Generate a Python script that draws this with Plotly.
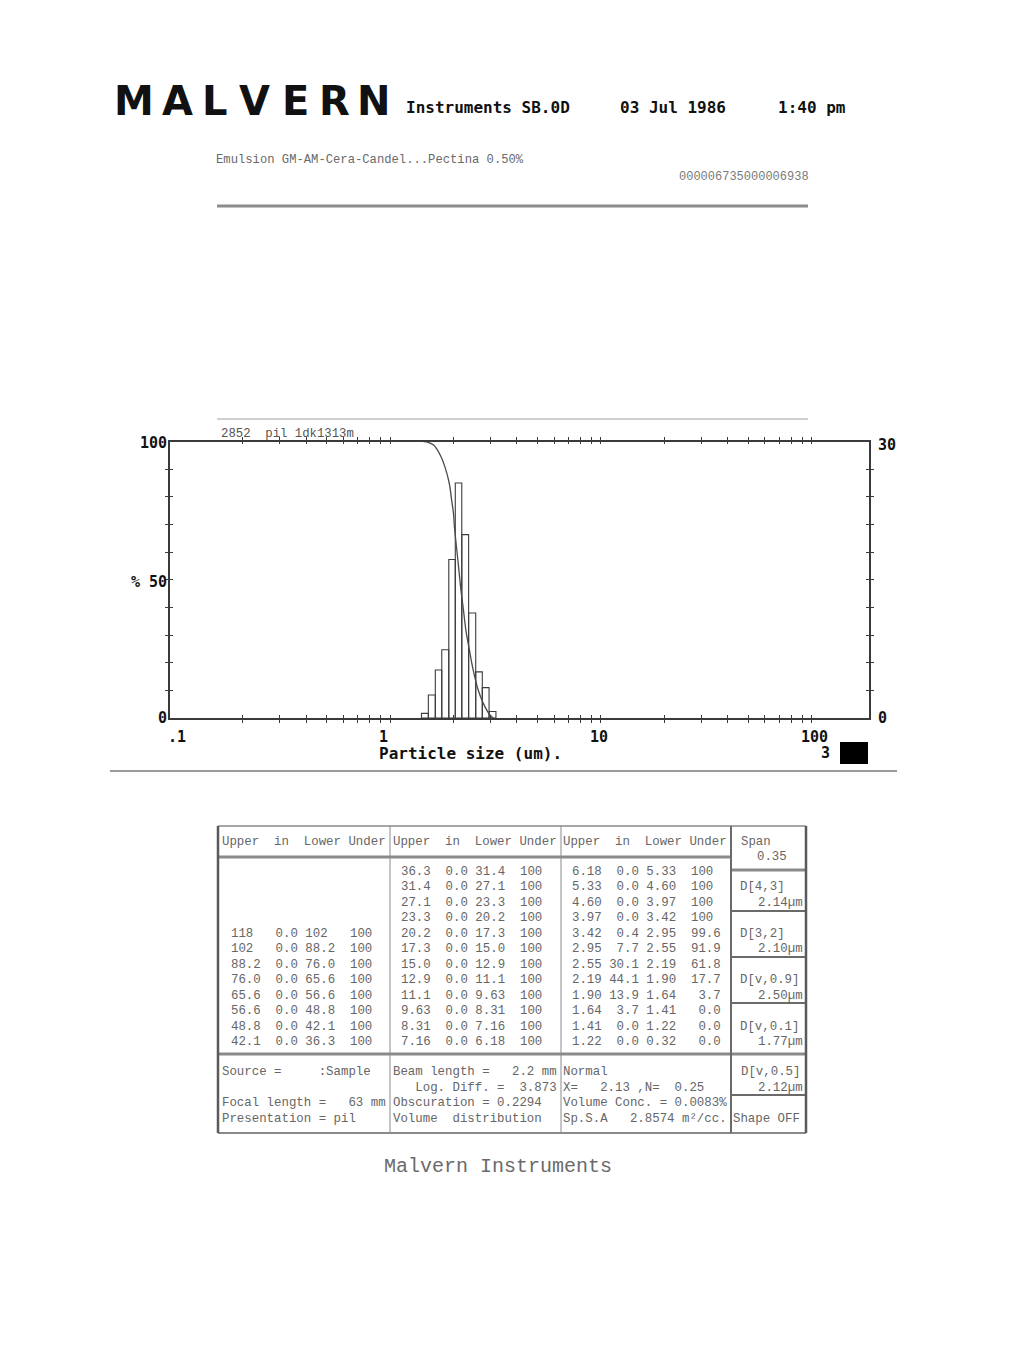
import math
import plotly.graph_objects as go

W, H = 1019, 1352
MONO = "Liberation Mono"
BOLD_MONO = "DejaVu Sans Mono"
LOGO_FONT = "DejaVu Sans"


def px(x):
    return x / W


def py(y):
    return 1 - y / H


def nb(s):
    # keep runs of spaces in monospaced text
    return s.replace(" ", "\u00a0")


# ---------------- distribution data ----------------
# histogram sub-classes (um) and volume % in each
bar_edges = [1.41, 1.52, 1.64, 1.76, 1.90, 2.04, 2.19, 2.36, 2.55, 2.74, 2.95, 3.18]
bar_volume = [0.5, 2.5, 5.2, 7.4, 17.2, 25.5, 19.9, 11.4, 5.0, 3.3, 0.7]

# cumulative oversize curve (% of volume above size)
curve_size = [1.44, 1.49, 1.61, 1.73, 1.82, 1.91, 1.96, 2.00, 2.02, 2.05, 2.09, 2.13,
              2.17, 2.23, 2.29, 2.38, 2.48, 2.62, 2.77, 2.98, 3.09]
curve_pct = [100, 99.9, 98.7, 95.1, 90.9, 84.9, 78.8, 74.0, 69.2, 64.4, 58.3, 52.3,
             46.3, 39.1, 31.8, 24.6, 17.4, 10.1, 5.3, 1.1, 0]

# axis ticks and labels
x_ticks = [m * 10.0 ** e for e in (-1, 0, 1) for m in range(2, 11)]
x_label_vals = [0.1, 1, 10, 100]
x_label_text = [".1", "1", "10", "100"]
pct_ticks = [10, 20, 30, 40, 50, 60, 70, 80, 90]
vol_ticks = [3, 6, 9, 12, 15, 18, 21, 24, 27]

# ---------------- result table data ----------------
upper_txt = ["118", "102", "88.2", "76.0", "65.6", "56.6", "48.8", "42.1",
             "36.3", "31.4", "27.1", "23.3", "20.2", "17.3", "15.0", "12.9",
             "11.1", "9.63", "8.31", "7.16", "6.18", "5.33", "4.60", "3.97",
             "3.42", "2.95", "2.55", "2.19", "1.90", "1.64", "1.41", "1.22"]
in_txt = ["0.0"] * 24 + ["0.4", "7.7", "30.1", "44.1", "13.9", "3.7", "0.0", "0.0"]
lower_txt = ["102", "88.2", "76.0", "65.6", "56.6", "48.8", "42.1", "36.3",
             "31.4", "27.1", "23.3", "20.2", "17.3", "15.0", "12.9", "11.1",
             "9.63", "8.31", "7.16", "6.18", "5.33", "4.60", "3.97", "3.42",
             "2.95", "2.55", "2.19", "1.90", "1.64", "1.41", "1.22", "0.32"]
under_txt = ["100"] * 24 + ["99.6", "91.9", "61.8", "17.7", "3.7", "0.0", "0.0", "0.0"]

span_labels = ["D[4,3]", "D[3,2]", "D[v,0.9]", "D[v,0.1]"]
span_values = ["2.14\u00b5m", "2.10\u00b5m", "2.50\u00b5m", "1.77\u00b5m"]

footer_cols = [
    ["Source =     :Sample", "", "Focal length =   63 mm", "Presentation = pil"],
    ["Beam length =   2.2 mm", "   Log. Diff. =  3.873", "Obscuration = 0.2294",
     "Volume  distribution"],
    ["Normal", "X=   2.13 ,N=  0.25", "Volume Conc. = 0.0083%",
     "Sp.S.A   2.8574 m\u00b2/cc."],
]

# ---------------- figure ----------------
fig = go.Figure()

# histogram bars as outlined boxes on the log axis (right-hand 0-30 scale)
bx, by = [], []
for lo, hi, v in zip(bar_edges[:-1], bar_edges[1:], bar_volume):
    bx += [lo, lo, hi, hi, lo, None]
    by += [0, v, v, 0, 0, None]
fig.add_trace(go.Scatter(
    x=bx, y=by, mode="lines", fill="toself", fillcolor="white",
    line=dict(color="#3c3c3c", width=1.1), xaxis="x", yaxis="y",
    hoverinfo="skip", showlegend=False))

# cumulative curve on the 0-100 % scale, drawn above the bars
fig.add_trace(go.Scatter(
    x=curve_size, y=curve_pct, mode="lines",
    line=dict(color="#4a4a4a", width=1.3, shape="spline"),
    xaxis="x2", yaxis="y2", hoverinfo="skip", showlegend=False))

x_range = [-1.0436, 2.272]
x_dom = [px(170), px(869)]
y_dom = [py(718), py(441.5)]
AX = "#3a3a3a"

common_x = dict(type="log", range=x_range, domain=x_dom, showgrid=False, zeroline=False,
                showline=True, linecolor=AX, linewidth=1.5, tickvals=x_ticks,
                showticklabels=False, ticklen=3, tickwidth=1.2, tickcolor=AX, mirror="ticks")
common_y = dict(domain=y_dom, showgrid=False, zeroline=False, showline=True, linecolor=AX,
                linewidth=1.5, showticklabels=False, ticklen=3, tickwidth=1.2,
                tickcolor=AX, mirror="ticks")

fig.update_layout(
    width=W, height=H, margin=dict(l=0, r=0, t=0, b=0),
    paper_bgcolor="white", plot_bgcolor="rgba(0,0,0,0)", showlegend=False,
    xaxis=dict(common_x, ticks="outside", anchor="y"),
    xaxis2=dict(common_x, ticks="inside", overlaying="x", anchor="y2"),
    yaxis=dict(common_y, range=[0, 30], tickvals=vol_ticks, ticks="outside", anchor="x"),
    yaxis2=dict(common_y, range=[0, 100], tickvals=pct_ticks, ticks="inside",
                overlaying="y", anchor="x2"),
)

ann = []


def txt(x, y, s, size, color="#000", family=MONO, anchor="left", weight="normal"):
    ann.append(dict(x=px(x), y=py(y), xref="paper", yref="paper", text=nb(s),
                    showarrow=False, xanchor=anchor, yanchor="middle",
                    borderpad=0, borderwidth=0,
                    font=dict(family=family, size=size, color=color, weight=weight)))


# header logo, one glyph per slot
logo = "MALVERN"
logo_x = [134, 177, 215, 254, 295, 334, 373]
for ch, lx in zip(logo, logo_x):
    txt(lx, 101, ch, 40, "#111", LOGO_FONT, "center", "bold")

txt(406, 107, "Instruments SB.0D", 16, "#111", BOLD_MONO, weight="bold")
txt(620, 107, "03 Jul 1986", 16, "#111", BOLD_MONO, weight="bold")
txt(778, 107, "1:40 pm", 16, "#111", BOLD_MONO, weight="bold")

txt(216, 160, "Emulsion GM-AM-Cera-Candel...Pectina 0.50%", 12.2, "#6a6a6a")
txt(809, 177, "000006735000006938", 12, "#7a7a7a", anchor="right")

txt(221, 434, "2852  pil 1dk1313m", 12.3, "#555")

# axis labels of the size-distribution panel
txt(167, 443, "100", 15, "#111", BOLD_MONO, "right", "bold")
txt(167, 582, "% 50", 15, "#111", BOLD_MONO, "right", "bold")
txt(167, 718, "0", 15, "#111", BOLD_MONO, "right", "bold")
txt(878, 445, "30", 15, "#111", BOLD_MONO, "left", "bold")
txt(878, 718, "0", 15, "#111", BOLD_MONO, "left", "bold")
for v, t in zip(x_label_vals, x_label_text):
    ann.append(dict(x=math.log10(v), y=py(737), xref="x", yref="paper", text=t,
                    showarrow=False, xanchor="left", yanchor="middle", xshift=-11,
                    borderpad=0, borderwidth=0,
                    font=dict(family=BOLD_MONO, size=15, color="#111", weight="bold")))
txt(470, 753, "Particle size (um).", 16, "#111", BOLD_MONO, "center", "bold")
txt(830, 753, "3", 15, "#111", BOLD_MONO, "right", "bold")

# ---------------- table ----------------
TC = "#666666"
TS = 12.4
head_x = [222, 393, 563]
data_x = [231, 401, 572]
row_y = [872 + 15.45 * k for k in range(12)]

for hx in head_x:
    txt(hx, 842, "Upper  in  Lower Under", TS, TC)
txt(741, 842, "Span", TS, TC)
txt(757, 857, "0.35", TS, TC)

rows = []
for u, i, lo, d in zip(upper_txt, in_txt, lower_txt, under_txt):
    under = d if d == "100" else f"{d:>4}"
    rows.append(f"{u:<4}{i:>5} {lo:<4}  {under}")
slots = [(0, 4 + k) for k in range(8)] + [(1, k) for k in range(12)] + [(2, k) for k in range(12)]
for s, (c, r) in zip(rows, slots):
    txt(data_x[c], row_y[r], s, TS, TC)

for k, (lab, val) in enumerate(zip(span_labels, span_values)):
    txt(740, row_y[3 * k + 1], lab, TS, TC)
    txt(803, row_y[3 * k + 2], val, TS, TC, anchor="right")

foot_y = [1072, 1087.5, 1103, 1118.5]
for c, lines in enumerate(footer_cols):
    for y, s in zip(foot_y, lines):
        if s:
            txt(head_x[c], y, s, TS, TC)
txt(741, foot_y[0], "D[v,0.5]", TS, TC)
txt(803, foot_y[1], "2.12\u00b5m", TS, TC, anchor="right")
txt(733, foot_y[3], "Shape OFF", TS, TC)

txt(498, 1166, "Malvern Instruments", 20, "#6a6a6a", MONO, "center")

fig.update_layout(annotations=ann)

# ---------------- rules and boxes ----------------
shapes = []


def hline(x0, x1, y, w, c):
    shapes.append(dict(type="line", xref="paper", yref="paper", x0=px(x0), x1=px(x1),
                       y0=py(y), y1=py(y), line=dict(color=c, width=w)))


def vline(x, y0, y1, w, c):
    shapes.append(dict(type="line", xref="paper", yref="paper", x0=px(x), x1=px(x),
                       y0=py(y0), y1=py(y1), line=dict(color=c, width=w)))


hline(217, 808, 206, 3, "#8c8c8c")
hline(217, 808, 419, 1, "#a0a0a0")
hline(110, 897, 771, 2, "#9a9a9a")
shapes.append(dict(type="rect", xref="paper", yref="paper", x0=px(840), x1=px(868),
                   y0=py(764), y1=py(742), fillcolor="#000", line=dict(width=0)))

# table frame
hline(218, 806, 826, 1.5, "#8a8a8a")
hline(218, 731, 857, 3, "#8a8a8a")
hline(731, 806, 870, 3, "#8a8a8a")
for yy in (911, 957, 1003, 1095):
    hline(731, 806, yy, 2.2, "#6a6a6a")
hline(218, 806, 1054, 3, "#8a8a8a")
hline(218, 806, 1133, 1.8, "#8a8a8a")
vline(218, 826, 1133, 2.5, "#5a5a5a")
vline(806, 826, 1133, 2.5, "#5a5a5a")
vline(390, 826, 1133, 1, "#8a8a8a")
vline(561, 826, 1133, 1, "#8a8a8a")
vline(731, 826, 1133, 2, "#6a6a6a")

fig.update_layout(shapes=shapes)

fig.write_html("out.html")
